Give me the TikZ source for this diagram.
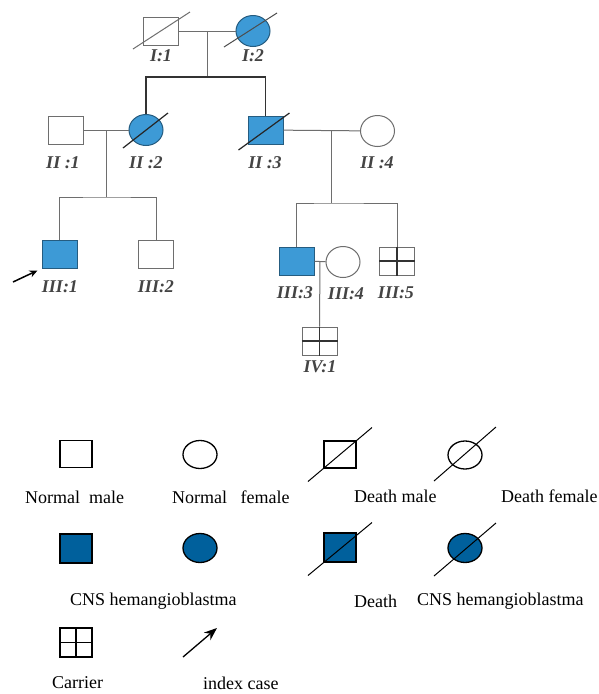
\documentclass[tikz,border=0pt]{standalone}
\usepackage{fontspec}
\setmainfont{Liberation Serif}
\usetikzlibrary{shapes.geometric,arrows.meta}
\definecolor{pedblue}{HTML}{3D9AD6}
\definecolor{legblue}{HTML}{00609C}
\definecolor{pedline}{HTML}{6E6E6E}
\definecolor{labgray}{HTML}{444444}
\tikzset{
  pmale/.style={draw=pedline,line width=1pt,rectangle,minimum width=35pt,minimum height=28pt,inner sep=0pt},
  pfemale/.style={draw=pedline,line width=1pt,ellipse,minimum width=34pt,minimum height=31pt,inner sep=0pt},
  paff/.style={fill=pedblue,draw=pedblue!60!black},
  plab/.style={font=\fontsize{18}{20}\selectfont\bfseries\itshape,text=labgray,inner sep=0pt},
  pline/.style={draw=pedline,line width=1pt},
  lmale/.style={draw=black,line width=1.3pt,rectangle,minimum width=32pt,minimum height=27pt,inner sep=0pt},
  lfemale/.style={draw=black,line width=1.3pt,ellipse,minimum width=34pt,minimum height=28pt,inner sep=0pt},
  laff/.style={fill=legblue},
  ltext/.style={font=\fontsize{18}{20}\selectfont,anchor=west,inner sep=0pt},
  ldiag/.style={draw=black,line width=1pt}
}
\begin{document}
\begin{tikzpicture}[x=1pt,y=-1pt]
\useasboundingbox[fill=white] (0,0) rectangle (599,694);
% ---------- generation I ----------
\node[pmale] (I1) at (161,31) {};
\node[pfemale,paff] (I2) at (253,31) {};
\node[plab] (lI1) at (161,56) {I:1};
\node[plab] (lI2) at (253,56) {I:2};
% ---------- generation II ----------
\node[pmale] (II1) at (65.5,130) {};
\node[pfemale,paff] (II2) at (146,130) {};
\node[pmale,paff] (II3) at (265.5,130) {};
\node[pfemale] (II4) at (377.5,131) {};
\node[plab] (lII1) at (63,163) {II :1};
\node[plab] (lII2) at (146,163) {II :2};
\node[plab] (lII3) at (265,163) {II :3};
\node[plab] (lII4) at (377,163) {II :4};
% ---------- generation III ----------
\node[pmale,paff] (III1) at (59.5,254) {};
\node[pmale] (III2) at (156,254) {};
\node[pmale,paff] (III3) at (296.5,261) {};
\node[pfemale] (III4) at (343,262) {};
\node[pmale] (III5) at (397,261) {};
\node[plab] (lIII1) at (60,287) {III:1};
\node[plab] (lIII2) at (156,287) {III:2};
\node[plab] (lIII3) at (295,293) {III:3};
\node[plab] (lIII4) at (346,294) {III:4};
\node[plab] (lIII5) at (396,293) {III:5};
% ---------- generation IV ----------
\node[pmale] (IV1) at (319.5,341) {};
\node[plab] (lIV1) at (320,367) {IV:1};
% ---------- connectors ----------
\coordinate (m1) at (207,31);
\coordinate (s1) at (207,77);
\draw[pline] (I1) -- (I2);
\draw[pline] (m1) -- (s1);
\draw[draw=black!80,line width=1.4pt] (II2.north) |- (s1) -| (II3.north);
\coordinate (m2) at (106,130);
\coordinate (s2) at (106,197);
\draw[pline] (II1) -- (II2);
\draw[pline] (m2) -- (s2);
\draw[pline] (III1.north) |- (s2) -| (III2.north);
\coordinate (m3) at (331,130);
\coordinate (s3) at (331,203);
\draw[pline] (II3) -- (II4);
\draw[pline] (m3) -- (s3);
\draw[pline] (III3.north) |- (s3) -| (III5.north);
\coordinate (m4) at (320,261);
\draw[pline] (III3) -- (III4);
\draw[pline] (m4) -- (IV1.north);
% carrier crosses
\draw[draw=black!80,line width=1.2pt] (III5.north) -- (III5.south) (III5.west) -- (III5.east);
\draw[draw=black!80,line width=1.2pt] (IV1.north) -- (IV1.south) (IV1.west) -- (IV1.east);
% death lines
\draw[pline] ([shift={(-28,18)}]I1.center) -- ([shift={(29,-19)}]I1.center);
\draw[draw=black!70,line width=1pt] ([shift={(-29,16)}]I2.center) -- ([shift={(24,-18)}]I2.center);
\draw[draw=black!85,line width=1.2pt] ([shift={(-23,18)}]II2.center) -- ([shift={(22,-17)}]II2.center);
\draw[draw=black!85,line width=1.2pt] ([shift={(-27,20)}]II3.center) -- ([shift={(24,-17)}]II3.center);
% index arrow
\coordinate (idxtail) at (13,282);
\coordinate (idxhead) at ([shift={(-4,2)}]III1.south west);
\draw[draw=black,line width=1.5pt,-{Stealth[length=8pt,width=7pt]}] (idxtail) -- (idxhead);
% ---------- legend ----------
\node[lmale] (LM) at (76,454) {};
\node[lfemale] (LF) at (200,454.5) {};
\node[lmale] (DM) at (340,454.5) {};
\node[lfemale] (DF) at (465,455) {};
\draw[ldiag] ([shift={(-32,27)}]DM.center) -- ([shift={(32,-27)}]DM.center);
\draw[ldiag] ([shift={(-31,26)}]DF.center) -- ([shift={(31,-28)}]DF.center);
\node[ltext] (tLM) at (25,497) {Normal\ \ male};
\node[ltext] (tLF) at (172,497) {Normal\ \ \ female};
\node[ltext] (tDM) at (354,496) {Death male};
\node[ltext] (tDF) at (501,496) {Death female};
\node[lmale,laff,minimum height=29pt] (AM) at (76,548.5) {};
\node[lfemale,laff,minimum height=29pt] (AF) at (200,548) {};
\node[lmale,laff,minimum height=29pt] (ADM) at (340,547.5) {};
\node[lfemale,laff,minimum height=29pt] (ADF) at (465,548) {};
\draw[ldiag] ([shift={(-32,28)}]ADM.center) -- ([shift={(32,-25)}]ADM.center);
\draw[ldiag] ([shift={(-31,28)}]ADF.center) -- ([shift={(31,-25)}]ADF.center);
\node[ltext] (tA) at (70,601) {CNS hemangioblastma};
\node[ltext] (tD) at (354,601) {Death};
\node[ltext] (tAD) at (417,601) {CNS hemangioblastma};
\node[lmale,minimum height=29pt] (CM) at (76,642.5) {};
\draw[line width=1.3pt] (CM.north) -- (CM.south) (CM.west) -- (CM.east);
\coordinate (latail) at (183,657);
\coordinate (lahead) at (217,628);
\draw[line width=1.3pt,-{Stealth[length=13pt,width=10pt]}] (latail) -- (lahead);
\node[ltext] (tC) at (52,683) {Carrier};
\node[ltext] (tI) at (203,683) {index case};
\end{tikzpicture}
\end{document}
